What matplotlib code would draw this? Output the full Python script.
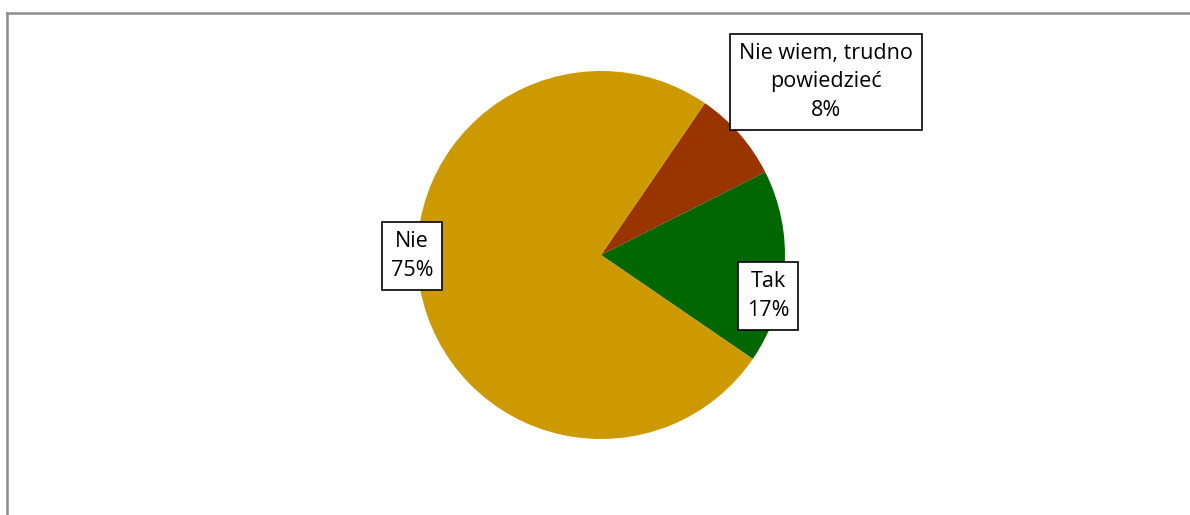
import matplotlib.pyplot as plt
from matplotlib.lines import Line2D

labels = ["Nie wiem, trudno\npowiedzieć", "Tak", "Nie"]
values = [8, 17, 75]
colors = ["#993300", "#006600", "#CC9900"]

W, H = 1190, 515
fig = plt.figure(figsize=(W / 100, H / 100), dpi=100)
ax = fig.add_axes([0, 0, 1, 1])

# chart frame (only left and top edges visible)
fig.add_artist(Line2D([7 / W, 7 / W], [0, 1 - 13 / H], color="#8c8c8c", lw=1.8))
fig.add_artist(Line2D([7 / W, 1], [1 - 13 / H, 1 - 13 / H], color="#8c8c8c", lw=1.8))

ax.pie(values, colors=colors, startangle=55.6, counterclock=False,
       center=(601, H - 255), radius=184, frame=True)
ax.set_xlim(0, W)
ax.set_ylim(0, H)
ax.set_aspect("equal")
ax.axis("off")

# data labels
label_pos = [(826, H - 82), (768, H - 296), (412, H - 256)]
for lab, v, (x, y) in zip(labels, values, label_pos):
    ax.text(x, y, f"{lab}\n{v}%", ha="center", va="center", fontsize=15.5,
            family="Open Sans", linespacing=1.5,
            bbox=dict(boxstyle="square,pad=0.4", fc="white", ec="black", lw=1.2))

fig.savefig("out.png", dpi=100)
